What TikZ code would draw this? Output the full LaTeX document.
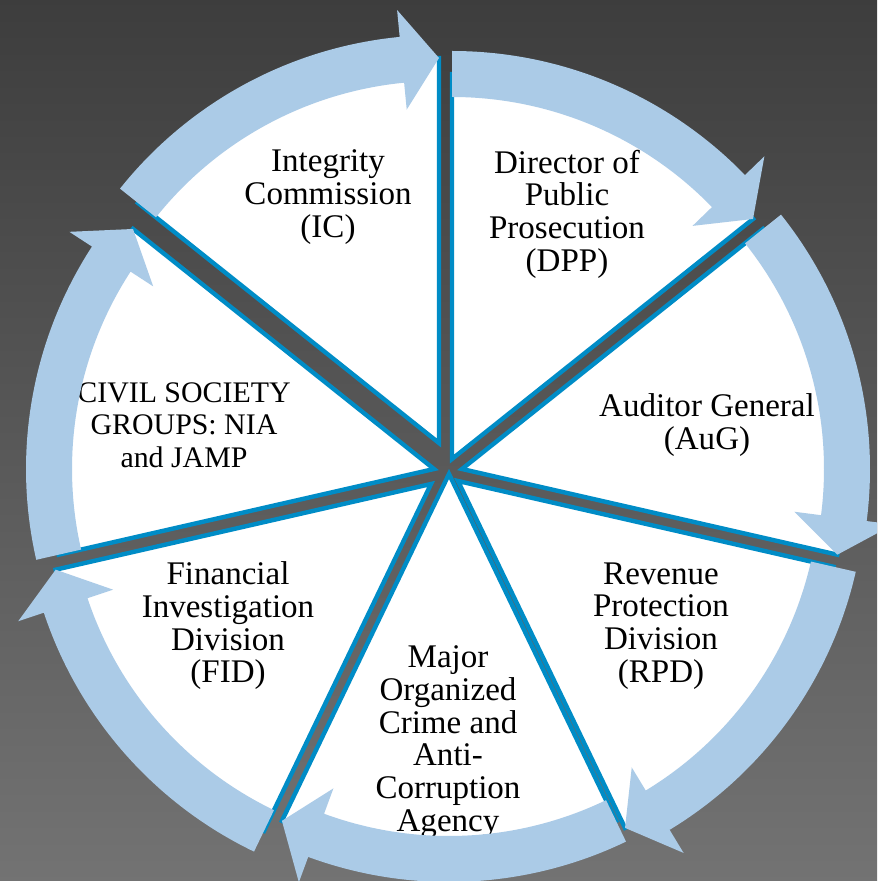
\documentclass[tikz,border=0pt]{standalone}
\usepackage{fontspec}
\setmainfont{Liberation Serif}
\definecolor{ringblue}{RGB}{171,203,231}
\definecolor{edgeblue}{RGB}{0,140,198}

\begin{document}
\begin{tikzpicture}[x=0.02cm, y=0.02cm,
	wedge/.style={fill=white, draw=edgeblue, line width=2.5pt},
	ringarrow/.style={fill=ringblue},
	seglabel/.style={align=center, inner sep=0pt, font=\fontsize{18.8}{18.6}\selectfont}]
	\useasboundingbox (0,0) rectangle (877,-881);
	\clip (0,0) rectangle (877,-881);
	\shade [top color=black!76, bottom color=black!55] (0,0) rectangle (877,-881);
	
	% the seven slices: apex x / apex y / start angle
	\foreach \ax/\ay/\a in {439/-443/141.43, 452/-459/90, 462/-469/38.57, 458/-481/-12.86, 449/-474/-64.29, 431/-484/-115.71, 434/-469/-167.14}
		\draw [wedge] (\ax,\ay) -- ++(\a:385) arc[start angle=\a, delta angle=-51.43, radius=385] -- cycle;
	
	\node [seglabel] (ic) at (328,-197) {Integrity\\Commission\\(IC)};
	\node [seglabel] (dpp) at (567,-214) {Director of\\Public\\Prosecution\\(DPP)};
	\node [seglabel] (aug) at (707,-425) {Auditor General\\(AuG)};
	\node [seglabel] (rpd) at (661,-626) {Revenue\\Protection\\Division\\(RPD)};
	\node [seglabel] (moca) at (448,-742) {Major\\Organized\\Crime and\\Anti-\\Corruption\\Agency};
	\node [seglabel] (fid) at (228,-626) {Financial\\Investigation\\Division\\(FID)};
	\node [seglabel, font=\fontsize{17}{18.6}\selectfont] (csg) at (184,-425) {CIVIL SOCIETY\\GROUPS: NIA\\and JAMP};
	
	% arrows round the ring, one per slice
	\foreach \ax/\ay/\a in {439/-443/141.43, 452/-459/90, 462/-469/38.57, 458/-481/-12.86, 449/-474/-64.29, 431/-484/-115.71, 434/-469/-167.14} {
		\pgfmathsetmacro{\b}{\a-51.43}
		\pgfmathsetmacro{\h}{\a-45.9}
		\fill [ringarrow, shift={(\ax,\ay)}] (\a:408) arc[start angle=\a, end angle=\h, radius=408] -- (\h:435) -- (\b:385) -- (\h:335) -- (\h:362) arc[start angle=\h, end angle=\a, radius=362] -- cycle;
	}
%	\draw [step=50, white] (0,0) grid (877,-881);
\end{tikzpicture}
\end{document}
